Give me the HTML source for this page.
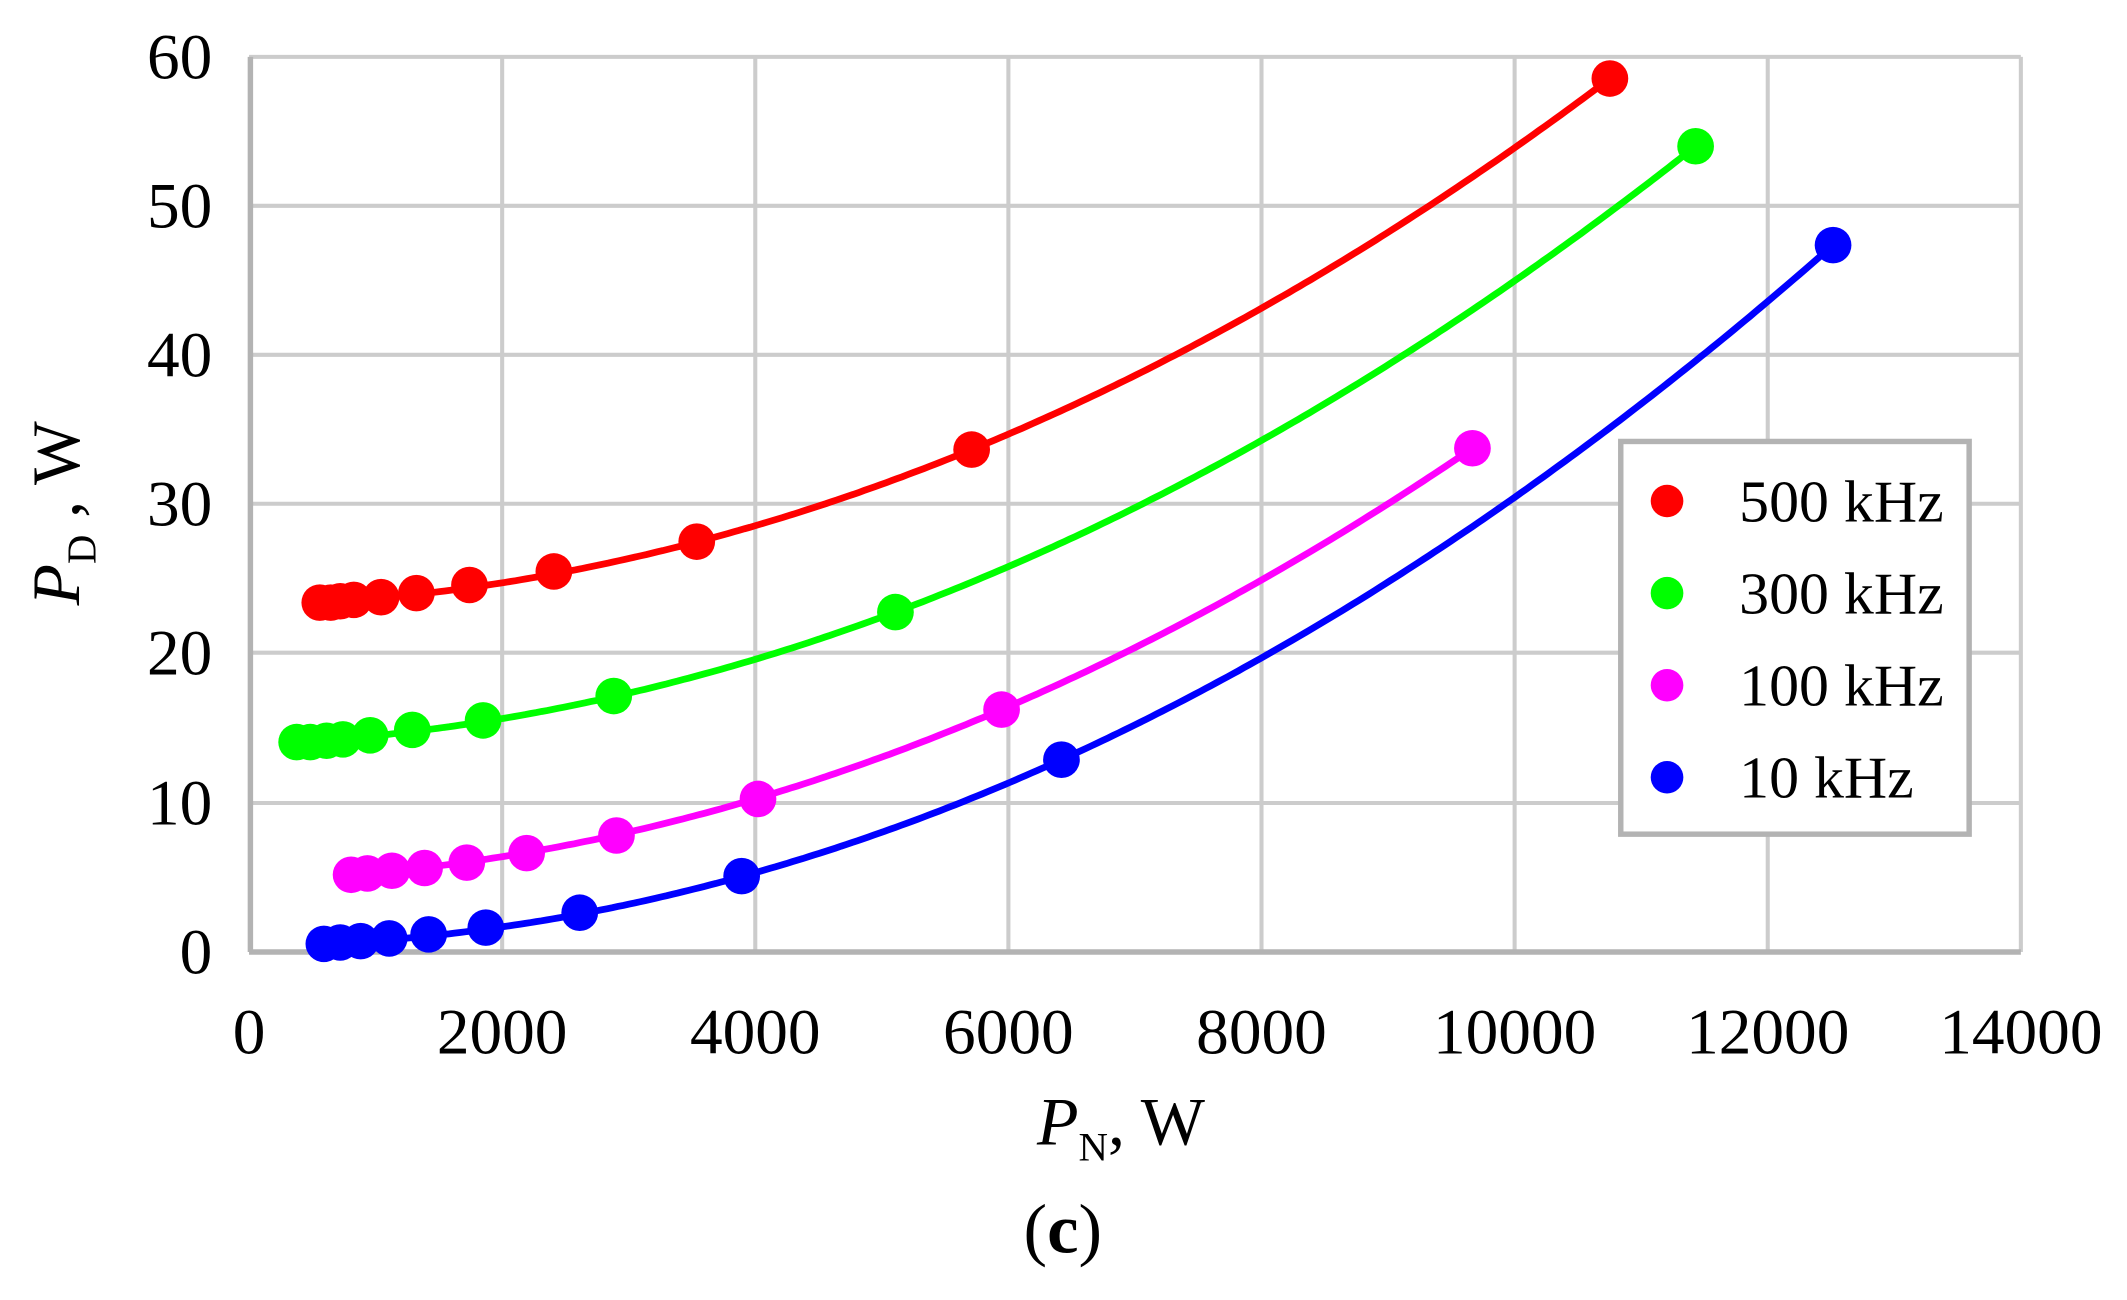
<!DOCTYPE html>
<html><head><meta charset="utf-8"><style>html,body{margin:0;padding:0;background:#fff}svg{display:block}</style></head>
<body>
<svg id="s" width="2127" height="1300" viewBox="0 0 1563 960" preserveAspectRatio="none" xmlns="http://www.w3.org/2000/svg" font-family="'Liberation Serif', serif">
<g stroke="#cccccc" stroke-width="3">
<line x1="369" y1="42" x2="369" y2="703"/><line x1="555" y1="42" x2="555" y2="703"/><line x1="741" y1="42" x2="741" y2="703"/><line x1="927" y1="42" x2="927" y2="703"/><line x1="1113" y1="42" x2="1113" y2="703"/><line x1="1299" y1="42" x2="1299" y2="703"/><line x1="1485" y1="42" x2="1485" y2="703"/>
<line x1="183" y1="593" x2="1485" y2="593"/><line x1="183" y1="482" x2="1485" y2="482"/><line x1="183" y1="372" x2="1485" y2="372"/><line x1="183" y1="262" x2="1485" y2="262"/><line x1="183" y1="152" x2="1485" y2="152"/><line x1="183" y1="42" x2="1485" y2="42"/>
</g>
<g stroke="#b3b3b3" stroke-width="4"><line x1="184" y1="42" x2="184" y2="703"/><line x1="183" y1="703" x2="1485" y2="703"/></g>
<g font-size="48" text-anchor="end">
<text x="156" y="719">0</text><text x="156" y="609">10</text><text x="156" y="498">20</text><text x="156" y="388">30</text><text x="156" y="278">40</text><text x="156" y="168">50</text><text x="156" y="58">60</text>
</g>
<g font-size="48" text-anchor="middle">
<text x="183" y="778">0</text><text x="369" y="778">2000</text><text x="555" y="778">4000</text><text x="741" y="778">6000</text><text x="927" y="778">8000</text><text x="1113" y="778">10000</text><text x="1299" y="778">12000</text><text x="1485" y="778">14000</text>
</g>
<text x="762" y="845" font-size="50"><tspan font-style="italic">P</tspan><tspan font-size="30" dy="12">N</tspan><tspan dy="-12">, W</tspan></text>
<text transform="translate(58,447) rotate(-90)" font-size="50"><tspan font-style="italic">P</tspan><tspan font-size="30" dy="12">D</tspan><tspan dy="-12"> , W</tspan></text>
<text x="781" y="925" font-size="52" text-anchor="middle">(<tspan font-weight="bold">c</tspan>)</text>
<g id="series"></g>
<rect x="1191" y="326" width="256" height="290" fill="#fff" stroke="#b3b3b3" stroke-width="4"/>
<circle cx="1225" cy="370" r="12" fill="#ff0000"/><circle cx="1225" cy="438" r="12" fill="#00ff00"/><circle cx="1225" cy="506" r="12" fill="#ff00ff"/><circle cx="1225" cy="574" r="12" fill="#0000ff"/>
<g font-size="44"><text x="1278" y="385">500 kHz</text><text x="1278" y="453">300 kHz</text><text x="1278" y="521">100 kHz</text><text x="1278" y="589">10 kHz</text></g>
</svg>
<script>
var S=[
["#ff0000",[[235,445],[243,445],[250,444],[260,443],[280,441],[306,438],[345,432],[407,422],[512,400],[714,332],[1183,58]],[0,9,10]],
["#00ff00",[[218,548],[228,548],[240,547],[252,546],[272,543],[303,539],[355,532],[451,514],[658,452],[1246,108]],[0,8,9]],
["#ff00ff",[[258,646],[270,645],[288,643],[312,641],[343,637],[387,630],[453,617],[557,590],[736,524],[1082,331]],[0,8,9]],
["#0000ff",[[238,697],[250,696],[265,695],[286,693],[315,690],[357,685],[426,674],[545,647],[780,561],[1347,181]],[0,8,9]]];
var g=document.getElementById('series'),ns="http://www.w3.org/2000/svg";
S.forEach(function(s){
 var P=s[1],a=P[s[2][0]],b=P[s[2][1]],c=P[s[2][2]];
 function f(x){return a[1]*(x-b[0])*(x-c[0])/((a[0]-b[0])*(a[0]-c[0]))+b[1]*(x-a[0])*(x-c[0])/((b[0]-a[0])*(b[0]-c[0]))+c[1]*(x-a[0])*(x-b[0])/((c[0]-a[0])*(c[0]-b[0]));}
 var d="",x0=P[0][0],x1=P[P.length-1][0];
 for(var x=x0;x<=x1;x+=4){d+=(d?" L":"M")+x+","+f(x).toFixed(1);}
 d+=" L"+x1+","+f(x1).toFixed(1);
 var pa=document.createElementNS(ns,"path");pa.setAttribute("d",d);pa.setAttribute("fill","none");pa.setAttribute("stroke",s[0]);pa.setAttribute("stroke-width","5");g.appendChild(pa);
 P.forEach(function(q){var e=document.createElementNS(ns,"circle");e.setAttribute("cx",q[0]);e.setAttribute("cy",q[1]);e.setAttribute("r","13.5");e.setAttribute("fill",s[0]);g.appendChild(e);});
});
</script>
</body></html>
